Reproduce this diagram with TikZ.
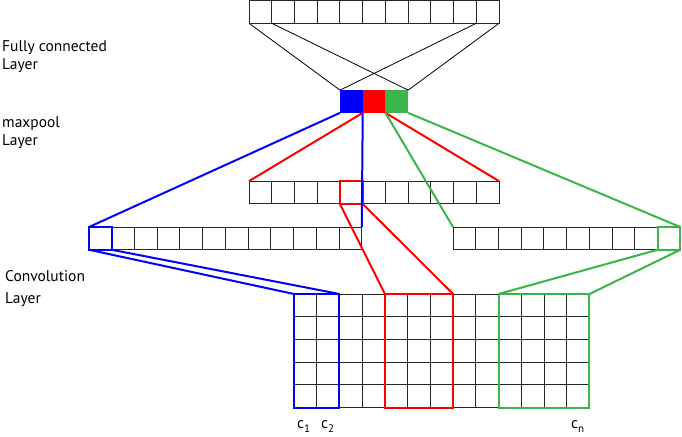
\documentclass[tikz,border=0pt]{standalone}
\usepackage{fontspec}
\setmainfont{PT Sans}
\definecolor{poolgreen}{RGB}{57,181,74}
\newcommand{\lowidx}[1]{\raisebox{-4pt}{\fontsize{11}{11}\selectfont #1}}
\begin{document}
\begin{tikzpicture}[x=1pt, y=-1pt,
    cell/.style={draw=black!85, line width=0.9pt, minimum size=22.73pt, inner sep=0pt, outer sep=0pt},
    pool/.style={minimum size=22.73pt, inner sep=0pt, outer sep=0pt},
    layer/.style={anchor=base west, inner sep=0pt, font=\fontsize{15.5}{18}\selectfont},
    link/.style={line width=0.8pt},
    frame/.style={line width=2pt}]
  \useasboundingbox (0,0) rectangle (682,436);

  % Fully connected layer
  \foreach \i in {1,...,11}
    \node[cell] (fc-\i) at (249+22.73*\i-11.365, 11.9) {};

  % Maxpool layer
  \foreach \i/\c in {1/blue, 2/red, 3/poolgreen}
    \node[pool, fill=\c] (mp-\i) at (340+22.73*\i-11.365, 101.5) {};

  % Pooled row
  \foreach \i in {1,...,11}
    \node[cell] (mid-\i) at (249+22.73*\i-11.365, 192.5) {};

  % Convolution rows
  \foreach \i in {1,...,12}
    \node[cell] (cl-\i) at (89+22.73*\i-11.365, 238.4) {};
  \foreach \i in {1,...,10}
    \node[cell] (cr-\i) at (453+22.73*\i-11.365, 238.4) {};

  % Feature map grid
  \foreach \r in {1,...,5}
    \foreach \i in {1,...,13}
      \node[cell] (g-\r-\i) at (294+22.73*\i-11.365, 294+22.73*\r-11.365) {};

  % Fully connected to maxpool
  \draw[link] (fc-1.south west) -- (mp-1.north west);
  \draw[link] (fc-2.south west) -- (mp-3.north east);
  \draw[link] (fc-11.south west) -- (mp-1.north west);
  \draw[link] (fc-11.south east) -- (mp-3.north east);

  % Red path
  \draw[frame, red] (mp-2.south west) -- (mid-1.north west);
  \draw[frame, red] (mp-2.south east) -- (mid-11.north east);
  \draw[frame, red] (mid-5.north west) rectangle (mid-5.south east);
  \draw[frame, red] (mid-5.south west) -- (g-1-5.north west);
  \draw[frame, red] (mid-5.south east) -- (g-1-7.north east);
  \draw[frame, red] (g-1-5.north west) rectangle (g-5-7.south east);

  % Blue path
  \draw[frame, blue] (mp-1.south west) -- (cl-1.north west);
  \draw[frame, blue] (mp-1.south east) -- (cl-12.north east);
  \draw[frame, blue] (cl-1.north west) rectangle (cl-1.south east);
  \draw[frame, blue] (cl-1.south west) -- (g-1-1.north west);
  \draw[frame, blue] (cl-1.south east) -- (g-1-2.north east);
  \draw[frame, blue] (g-1-1.north west) rectangle (g-5-2.south east);

  % Green path
  \draw[frame, poolgreen] (mp-3.south west) -- (cr-1.north west);
  \draw[frame, poolgreen] (mp-3.south east) -- (cr-10.north east);
  \draw[frame, poolgreen] (cr-10.north west) rectangle (cr-10.south east);
  \draw[frame, poolgreen] (cr-10.south west) -- (g-1-10.north west);
  \draw[frame, poolgreen] (cr-10.south east) -- (g-1-13.north east);
  \draw[frame, poolgreen] (g-1-10.north west) rectangle (g-5-13.south east);

  % Layer names
  \node[layer] (fc-name) at (2,52) {Fully connected};
  \node[layer] (fc-name2) at (2,70) {Layer};
  \node[layer] (mp-name) at (2,127) {maxpool};
  \node[layer] (mp-name2) at (2,145) {Layer};
  \node[layer] (conv-name) at (5,281) {Convolution};
  \node[layer] (conv-name2) at (5,303) {Layer};

  % Channel labels
  \node[layer] (c-1) at (297,428) {c\lowidx{1}};
  \node[layer] (c-2) at (321,428) {c\lowidx{2}};
  \node[layer] (c-n) at (571,428) {c\lowidx{n}};
\end{tikzpicture}
\end{document}
